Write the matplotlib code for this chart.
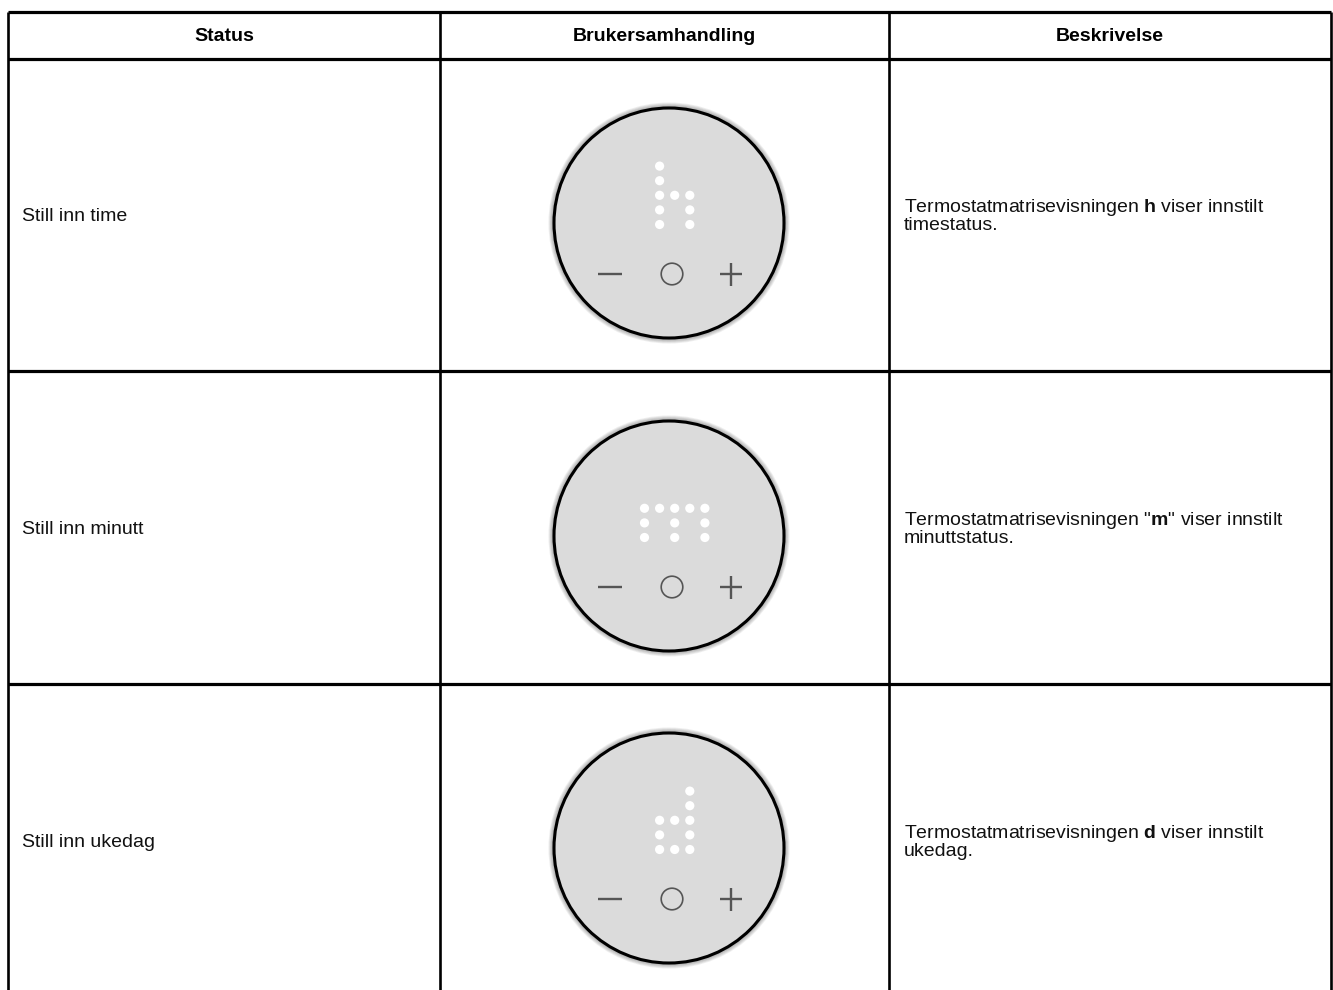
import matplotlib
matplotlib.use("Agg")
import matplotlib.pyplot as plt
from matplotlib.patches import Circle
from matplotlib.lines import Line2D

plt.rcParams['font.family'] = ['Liberation Sans', 'DejaVu Sans']
plt.rcParams['mathtext.fontset'] = 'custom'
plt.rcParams['mathtext.rm'] = 'Liberation Sans'
plt.rcParams['mathtext.bf'] = 'Liberation Sans:bold'
plt.rcParams['mathtext.it'] = 'Liberation Sans:italic'

# ---- data ----
headers = ["Status", "Brukersamhandling", "Beskrivelse"]
statuses = ["Still inn time", "Still inn minutt", "Still inn ukedag"]
desc_line1 = [
    r"Termostatmatrisevisningen $\mathbf{h}$ viser innstilt",
    r'Termostatmatrisevisningen "$\mathbf{m}$" viser innstilt',
    r"Termostatmatrisevisningen $\mathbf{d}$ viser innstilt",
]
desc_line2 = ["timestatus.", "minuttstatus.", "ukedag."]
matrix_h = [".X...",
            ".X...",
            ".XXX.",
            ".X.X.",
            ".X.X."]
matrix_m = [".....",
            ".....",
            "XXXXX",
            "X.X.X",
            "X.X.X"]
matrix_d = ["...X.",
            "...X.",
            ".XXX.",
            ".X.X.",
            ".XXX."]
matrices = [matrix_h, matrix_m, matrix_d]

# ---- layout (pixels) ----
W, H = 1333, 990
fig = plt.figure(figsize=(W / 100, H / 100), dpi=100)
ax = fig.add_axes([0, 0, 1, 1])
ax.set_xlim(0, W)
ax.set_ylim(H, 0)
ax.axis('off')

col_x = [8, 440, 889, 1331]
row_y = [11.5, 58.5, 371, 684, 997]
lw = 1.9

for x in col_x:
    ax.add_line(Line2D([x, x], [row_y[0], H + 5], color='black', lw=lw, solid_capstyle='butt'))
for y in row_y[:-1]:
    ax.add_line(Line2D([col_x[0], col_x[-1]], [y, y], color='black', lw=lw + 0.4, solid_capstyle='butt'))

fs = 14
for i, h in enumerate(headers):
    ax.text((col_x[i] + col_x[i + 1]) / 2, 41, h, ha='center', va='baseline',
            fontsize=fs, fontweight='bold', color='black')

cx = 669
cys = [223, 536, 848]
R = 115

for i in range(3):
    top, bot = row_y[i + 1], row_y[i + 2]
    mid = (top + bot) / 2
    ax.text(22, mid + 6.5, statuses[i], ha='left', va='baseline', fontsize=fs, color='#111111')
    ax.text(904, mid - 2.5, desc_line1[i], ha='left', va='baseline', fontsize=fs, color='#111111')
    ax.text(904, mid + 15.5, desc_line2[i], ha='left', va='baseline', fontsize=fs, color='#111111')

    cy = cys[i]
    # soft shadow
    for k in range(7, 0, -1):
        ax.add_patch(Circle((cx, cy), R + k * 0.8, facecolor='black', edgecolor='none',
                            alpha=0.06, zorder=2))
    ax.add_patch(Circle((cx, cy), R, facecolor='#dbdbdb', edgecolor='black', lw=2.2, zorder=3))

    # dot matrix
    m = matrices[i]
    nrows = len(m)
    for r, rowstr in enumerate(m):
        for c, ch in enumerate(rowstr):
            if ch == 'X':
                dx = cx - 24.5 + 15.1 * c
                dy = cy + 1.5 - 14.6 * (nrows - 1 - r)
                ax.add_patch(Circle((dx, dy), 4.6, facecolor='white', edgecolor='none', zorder=4))

    # buttons
    by = cy + 51
    bc = '#555555'
    ax.add_line(Line2D([cx - 71, cx - 47], [by, by], color=bc, lw=1.7, zorder=4, solid_capstyle='butt'))
    ax.add_patch(Circle((cx + 3, by), 10.8, facecolor='none', edgecolor=bc, lw=1.2, zorder=4))
    px = cx + 61.5
    ax.add_line(Line2D([px - 11, px + 11], [by, by], color=bc, lw=1.7, zorder=4, solid_capstyle='butt'))
    ax.add_line(Line2D([px, px], [by - 11.5, by + 11.5], color=bc, lw=1.7, zorder=4, solid_capstyle='butt'))

fig.savefig("out.png", dpi=100, facecolor='white')
